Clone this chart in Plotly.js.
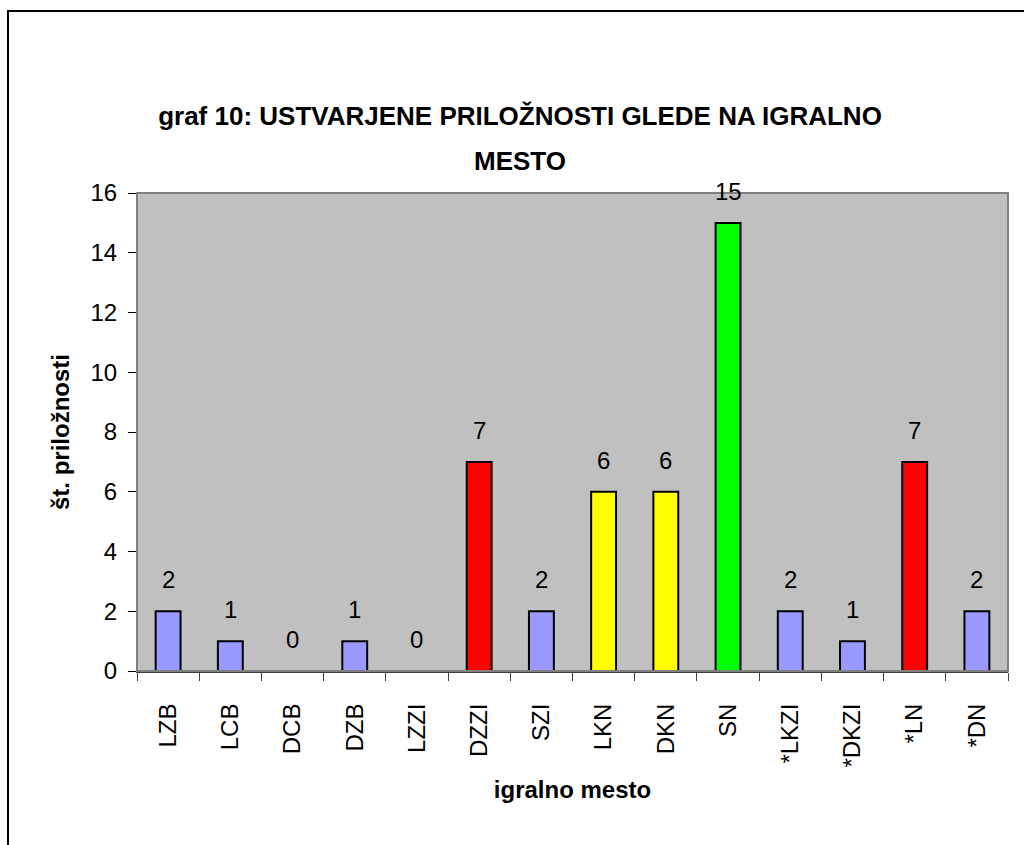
<!DOCTYPE html>
<html>
<head>
<meta charset="utf-8">
<script src="https://cdn.plot.ly/plotly-3.0.1.min.js"></script>
<style>
html, body { margin: 0; padding: 0; background: #ffffff; overflow: hidden; }
#chart { width: 1024px; height: 845px; }
</style>
</head>
<body>
<div id="chart"></div>
<script>
// ---- data ----
var categories = ["LZB", "LCB", "DCB", "DZB", "LZZI", "DZZI", "SZI", "LKN", "DKN", "SN", "*LKZI", "*DKZI", "*LN", "*DN"];
var values = [2, 1, 0, 1, 0, 7, 2, 6, 6, 15, 2, 1, 7, 2];
var barColors = ["#9999FF", "#9999FF", "#9999FF", "#9999FF", "#9999FF", "#FF0000", "#9999FF", "#FFFF00", "#FFFF00", "#00FF00", "#9999FF", "#9999FF", "#FF0000", "#9999FF"];
var titleLine1 = "graf 10: USTVARJENE PRILOŽNOSTI GLEDE NA IGRALNO";
var titleLine2 = "MESTO";
var xTitle = "igralno mesto";
var yTitle = "št. priložnosti";
var yTicks = [0, 2, 4, 6, 8, 10, 12, 14, 16];

var FONT = "Liberation Sans, Arial, sans-serif";

var trace = {
  type: "bar",
  x: categories,
  y: values,
  width: 0.4,
  marker: { color: barColors, line: { color: "#000000", width: 2 } },
  hoverinfo: "x+y"
};

var annotations = categories.map(function (c, i) {
  return {
    x: c, y: values[i], xref: "x", yref: "y",
    text: String(values[i]), showarrow: false,
    yanchor: "bottom", yshift: 16,
    font: { family: FONT, size: 24, color: "#000000" }
  };
});
annotations.push({
  x: (520 - 137) / 871, y: (671 - 161) / 478, xref: "paper", yref: "paper",
  text: "<b>" + titleLine2 + "</b>", showarrow: false,
  xanchor: "center", yanchor: "middle",
  font: { family: FONT, size: 26, color: "#000000" }
});

var layout = {
  width: 1024, height: 845,
  margin: { l: 137, r: 16, t: 193, b: 174, pad: 0 },
  paper_bgcolor: "#ffffff",
  plot_bgcolor: "#C0C0C0",
  showlegend: false,
  bargap: 0.6,
  title: {
    text: "<b>" + titleLine1 + "</b>",
    font: { family: FONT, size: 26, color: "#000000" },
    x: 520 / 1024, xref: "container", xanchor: "center",
    y: 1 - 116 / 845, yref: "container", yanchor: "middle"
  },
  xaxis: {
    type: "category",
    tickson: "boundaries",
    ticks: "outside", ticklen: 8, tickwidth: 1, tickcolor: "#404040",
    tickangle: -90,
    ticklabelstandoff: 21,
    tickfont: { family: FONT, size: 24, color: "#000000" },
    showline: true, linecolor: "#404040", linewidth: 2,
    showgrid: false, zeroline: false,
    range: [-0.5, 13.5],
    title: { text: "<b>" + xTitle + "</b>", font: { family: FONT, size: 24, color: "#000000" }, standoff: 15 }
  },
  yaxis: {
    range: [0, 16],
    tickvals: yTicks,
    ticktext: yTicks.map(String),
    ticks: "outside", ticklen: 8, tickwidth: 1, tickcolor: "#000000",
    ticklabelstandoff: 6,
    tickfont: { family: FONT, size: 24, color: "#000000" },
    showline: true, linecolor: "#000000", linewidth: 1,
    showgrid: false, zeroline: false,
    title: { text: "<b>" + yTitle + "</b>", font: { family: FONT, size: 24, color: "#000000" }, standoff: 14 }
  },
  shapes: [
    { type: "rect", xref: "paper", yref: "paper", x0: 0, x1: 1, y0: 0, y1: 1,
      line: { color: "#808080", width: 2 }, fillcolor: "rgba(0,0,0,0)", layer: "above" },
    { type: "rect", xref: "paper", yref: "paper",
      x0: (8 - 137) / 871, x1: (1060 - 137) / 871, y0: (671 - 880) / 478, y1: (671 - 11) / 478,
      line: { color: "#000000", width: 2 }, fillcolor: "rgba(0,0,0,0)", layer: "above" }
  ],
  annotations: annotations
};

Plotly.newPlot("chart", [trace], layout, { displayModeBar: false, staticPlot: true });
</script>
</body>
</html>
